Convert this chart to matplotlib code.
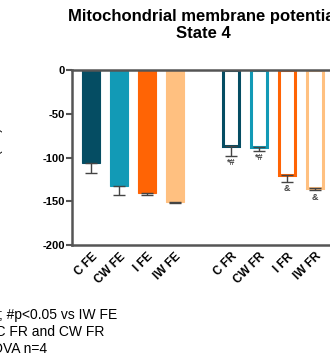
import numpy as np
import matplotlib
matplotlib.use("Agg")
import matplotlib.pyplot as plt
import matplotlib.transforms as mtransforms

plt.rcParams['font.family'] = ['Liberation Sans', 'DejaVu Sans']

labels = ['C FE', 'CW FE', 'I FE', 'IW FE', 'C FR', 'CW FR', 'I FR', 'IW FR']
means = [-106.5, -132.5, -140, -150.5, -87, -87.5, -120, -135]
errs = [11, 10, 2.5, 2, 11, 4.5, 7.5, 2.5]
colors = ['#054d63', '#129ab6', '#ff6405', '#ffc080',
          '#054d63', '#129ab6', '#ff6405', '#ffc080']
filled = [True, True, True, True, False, False, False, False]
marks = ['', '', '', '', '*#', '*#', '&', '&']
pos = [0, 1, 2, 3, 5, 6, 7, 8]

fig = plt.figure(figsize=(3.3, 3.61), dpi=100)
ax = fig.add_axes([72 / 330, 1 - 245 / 361, (360 - 72) / 330, 175 / 361])

for p, m, e, c, f, t in zip(pos, means, errs, colors, filled, marks):
    if f:
        ax.bar(p, m, width=0.64, color=c, edgecolor=c, linewidth=0.8, zorder=2)
    else:
        ax.bar(p, m, width=0.56, color='white', edgecolor=c, linewidth=2.2, zorder=2)
    ax.errorbar(p, m, yerr=[[e], [0]], fmt='none', ecolor='#444444',
                elinewidth=1.0, capsize=4, capthick=1.0, zorder=3)
    if t:
        ax.text(p, m - e - 3, t, ha='center', va='top', fontsize=6.5,
                color='#444444', fontweight='bold')

ax.set_ylim(-200, 0)
ax.set_xlim(-0.68, 9.6)
ax.set_yticks([0, -50, -100, -150, -200])
ax.set_yticklabels(['0', '-50', '-100', '-150', '-200'], fontweight='bold', fontsize=8)
ax.set_xticks(pos)
ax.set_xticklabels(labels, rotation=45, ha='right', rotation_mode='anchor',
                   fontweight='bold', fontsize=8.5)
shift = mtransforms.ScaledTranslation(6 / 100, -4 / 100, fig.dpi_scale_trans)
for lab in ax.get_xticklabels():
    lab.set_transform(lab.get_transform() + shift)
ax.tick_params(axis='x', length=0, pad=4)
ax.tick_params(axis='y', length=4, width=1.5, color='#555555', pad=1)
for s in ['left', 'bottom', 'top']:
    ax.spines[s].set_linewidth(1.8)
    ax.spines[s].set_color('#555555')
ax.spines['right'].set_visible(False)

fig.text(203 / 330, 1 - 25 / 361, 'Mitochondrial membrane potential\nState 4',
         ha='center', va='center', fontsize=12, fontweight='bold', linespacing=1.25)

fig.text(-0.008, 1 - 157 / 361, 'ΔΨm (mV)', rotation=90, ha='center', va='center',
         fontsize=9)

fig.text(117 / 330, 1 - 315 / 361, '*p<0.05 vs C FE and CW FE; #p<0.05 vs IW FE',
         ha='right', va='center', fontsize=10)
fig.text(104 / 330, 1 - 332 / 361, '&p<0.05 vs C FR and CW FR',
         ha='right', va='center', fontsize=10)
fig.text(47 / 330, 1 - 349 / 361, 'Two-way ANOVA n=4',
         ha='right', va='center', fontsize=10)

fig.savefig('out.png', dpi=100)
